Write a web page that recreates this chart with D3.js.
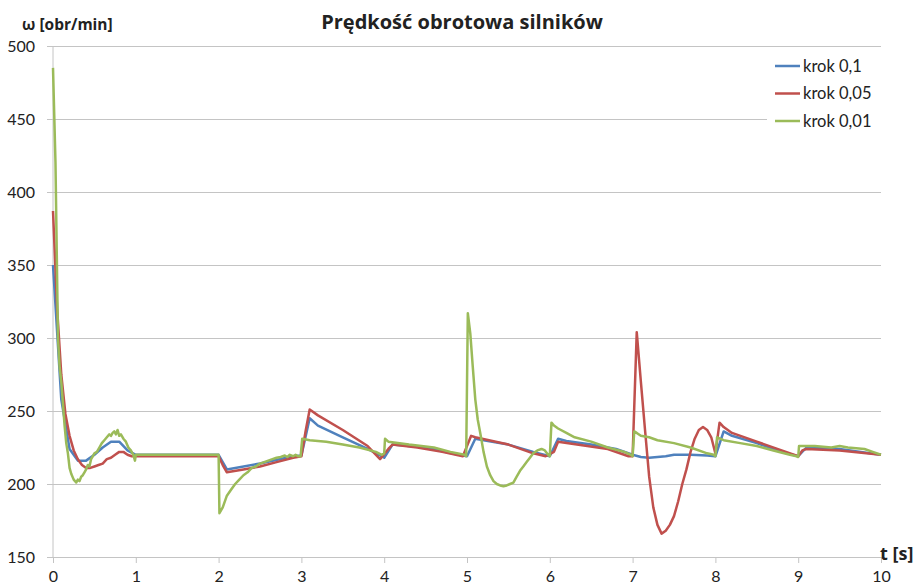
<!DOCTYPE html>
<html>
<head>
<meta charset="utf-8">
<script src="https://cdn.jsdelivr.net/npm/d3@7/dist/d3.min.js"></script>
<style>
  body { margin: 0; background: #fff; }
  text { font-family: Lato, "Open Sans", sans-serif; fill: #222; }
  .bold-title { font-family: "Open Sans", Lato, sans-serif; font-weight: bold; }
</style>
</head>
<body>
<div id="wrapper"></div>
<script>
'use strict';

// series data (t in seconds, omega in obr/min)
const tBlue = [0, 0.1, 0.2, 0.3, 0.4, 0.5, 0.6, 0.7, 0.8, 0.9, 1.0, 2.0, 2.1, 2.5, 2.9, 3.0, 3.1, 3.2, 3.5, 3.8, 4.0, 4.1, 4.5, 4.9, 5.0, 5.1, 5.2, 5.5, 5.8, 6.0, 6.1, 6.2, 6.5, 6.8, 7.0, 7.1, 7.2, 7.4, 7.5, 7.7, 7.9, 8.0, 8.1, 8.2, 8.5, 8.8, 9.0, 9.1, 9.5, 9.8, 10.0];
const vBlue = [350, 258, 224, 216, 216, 220, 225, 229, 229, 223, 220, 220, 210, 214, 219, 219.5, 245, 240, 232, 224, 218, 227, 225, 220, 219, 231, 230, 227, 222, 219, 231, 229.5, 227, 224, 220, 218.5, 218, 219, 220, 220, 219.5, 219, 236, 233, 228, 222, 219, 225, 224, 221.5, 220];

const tRed = [0, 0.05, 0.1, 0.15, 0.2, 0.25, 0.3, 0.35, 0.4, 0.45, 0.5, 0.55, 0.6, 0.65, 0.7, 0.75, 0.8, 0.85, 0.9, 0.95, 1.0, 2.0, 2.05, 2.1, 2.3, 2.5, 2.7, 2.9, 3.0, 3.05, 3.1, 3.2, 3.5, 3.8, 3.95, 4.05, 4.1, 4.4, 4.7, 4.95, 5.05, 5.1, 5.5, 5.8, 5.95, 6.05, 6.1, 6.7, 6.95, 7.0, 7.05, 7.1, 7.15, 7.2, 7.25, 7.3, 7.35, 7.4, 7.45, 7.5, 7.55, 7.6, 7.65, 7.7, 7.75, 7.8, 7.85, 7.9, 7.95, 8.0, 8.05, 8.1, 8.2, 8.5, 8.8, 9.0, 9.05, 9.1, 9.5, 10.0];
const vRed = [387, 320, 275, 248, 233, 223, 217, 213, 211, 211, 212, 213, 214, 217, 218, 220, 222, 222, 220, 219, 219, 219, 213, 208, 210, 212, 215, 218, 219, 236, 251, 247, 237, 226, 217, 224, 227, 225, 222, 219, 233, 232, 227, 221, 219, 222, 229, 224, 219, 219, 304, 270, 237, 205, 184, 172, 166, 168, 172, 178, 188, 200, 210, 222, 231, 237, 239, 237, 232, 221, 242, 239, 235, 229, 223, 219, 223, 224, 223, 220];

const tGreen = [0, 0.03, 0.06, 0.08, 0.1, 0.12, 0.14, 0.16, 0.18, 0.2, 0.22, 0.25, 0.28, 0.3, 0.32, 0.34, 0.36, 0.38, 0.4, 0.42, 0.44, 0.46, 0.48, 0.5, 0.53, 0.56, 0.59, 0.62, 0.65, 0.68, 0.7, 0.72, 0.74, 0.76, 0.78, 0.8, 0.82, 0.85, 0.88, 0.91, 0.94, 0.97, 0.99, 1.0, 2.0,
  2.01, 2.05, 2.1, 2.15, 2.2, 2.25, 2.3, 2.35, 2.4, 2.45, 2.5, 2.55, 2.6, 2.65, 2.7, 2.75, 2.8, 2.83, 2.86, 2.9, 2.93, 2.96, 2.99, 3.01, 3.1, 3.3, 3.5, 3.7, 3.9, 3.97, 4.0, 4.01, 4.05, 4.3, 4.6, 4.8, 4.97, 4.99,
  5.01, 5.04, 5.07, 5.1, 5.13, 5.16, 5.2, 5.24, 5.28, 5.32, 5.36, 5.4, 5.44, 5.48, 5.52, 5.56, 5.6, 5.64, 5.68, 5.72, 5.76, 5.8, 5.85, 5.9, 5.94, 5.98, 6.0,
  6.02, 6.05, 6.1, 6.2, 6.3, 6.5, 6.7, 6.9, 6.98, 7.0, 7.02, 7.05, 7.1, 7.2, 7.3, 7.5, 7.7, 7.9, 7.98, 8.0, 8.02, 8.1, 8.3, 8.5, 8.7, 8.9, 8.98, 9.0, 9.01, 9.2, 9.4, 9.5, 9.6, 9.8, 9.9, 10.0];
const vGreen = [485, 420, 300, 280, 270, 255, 240, 228, 221, 211, 207, 203, 201, 203, 202, 205, 206, 208, 210, 213, 212, 217, 219, 221, 222, 225, 228, 230, 232, 234, 233, 235, 236, 234, 237, 233, 234, 231, 229, 225, 223, 220, 216, 220, 220,
  180, 184, 192, 196, 200, 203, 206, 208, 211, 212, 214, 215, 216, 217, 218, 218.5, 219.5, 218.5, 220, 219, 220, 219, 219, 231, 230, 229, 227, 225, 222, 220, 221, 231, 229, 227, 225, 222, 220, 219,
  317, 303, 280, 258, 244, 235, 222, 212, 206, 202, 200, 199, 198.5, 199, 200, 201, 205, 209, 212, 215, 218, 221, 223, 224, 223, 220, 219,
  242, 240, 238, 235, 232, 229, 225, 222, 220, 219, 236, 235, 233, 232, 230, 228, 225, 221, 220, 219, 232, 230, 228, 226, 223, 220, 219, 218.5, 226, 226, 225, 226, 225, 224, 222, 220];

const seriesNames = ['krok 0,1', 'krok 0,05', 'krok 0,01'];
const seriesColors = ['#4F81BD', '#C0504D', '#9BBB59'];
const xTicks = [0, 1, 2, 3, 4, 5, 6, 7, 8, 9, 10];
const yTicks = [150, 200, 250, 300, 350, 400, 450, 500];

const series = [
  tBlue.map((t, i) => ({ t, v: vBlue[i] })),
  tRed.map((t, i) => ({ t, v: vRed[i] })),
  tGreen.map((t, i) => ({ t, v: vGreen[i] })),
];

const dimensions = {
  width: 922,
  height: 588,
  margin: { top: 46, right: 41, bottom: 31, left: 53 },
};
dimensions.boundedWidth = dimensions.width - dimensions.margin.left - dimensions.margin.right;
dimensions.boundedHeight = dimensions.height - dimensions.margin.top - dimensions.margin.bottom;

const xScale = d3.scaleLinear().domain([0, 10]).range([0, dimensions.boundedWidth]);
const yScale = d3.scaleLinear().domain([150, 500]).range([dimensions.boundedHeight, 0]);

const wrapper = d3.select('#wrapper')
  .append('svg')
  .attr('width', dimensions.width)
  .attr('height', dimensions.height);

const bounds = wrapper.append('g')
  .attr('transform', `translate(${dimensions.margin.left},${dimensions.margin.top})`);

// y axis with gridlines (grid starts 6px left of the axis)
const yAxis = bounds.append('g')
  .attr('transform', 'translate(-6,0)')
  .call(d3.axisLeft(yScale).tickValues(yTicks).tickSize(-(dimensions.boundedWidth + 6)).tickPadding(12));
yAxis.select('.domain').remove();
yAxis.selectAll('line').attr('stroke', '#c4c4c4');
yAxis.selectAll('text').style('font-size', '16px');

bounds.append('line')
  .attr('x1', 0).attr('x2', 0)
  .attr('y1', 0).attr('y2', dimensions.boundedHeight)
  .attr('stroke', '#c4c4c4');

// x axis
const xAxis = bounds.append('g')
  .attr('transform', `translate(0,${dimensions.boundedHeight})`)
  .call(d3.axisBottom(xScale).tickValues(xTicks).tickSize(6).tickPadding(8));
xAxis.select('.domain').attr('stroke', '#c4c4c4');
xAxis.selectAll('line').attr('stroke', '#c4c4c4');
xAxis.selectAll('text').style('font-size', '16px');

// lines
const lineGenerator = d3.line()
  .x(d => xScale(d.t))
  .y(d => yScale(d.v));

bounds.selectAll('.series')
  .data(series)
  .join('path')
  .attr('class', 'series')
  .attr('d', lineGenerator)
  .attr('fill', 'none')
  .attr('stroke', (d, i) => seriesColors[i])
  .attr('stroke-width', 2.5)
  .attr('stroke-linejoin', 'round');

// legend
const legend = wrapper.append('g').attr('transform', 'translate(767,52)');
legend.append('rect')
  .attr('width', 115).attr('height', 83)
  .attr('fill', '#fff');
const legendItems = legend.selectAll('.item')
  .data(seriesNames)
  .join('g')
  .attr('transform', (d, i) => `translate(0,${14 + i * 27.5})`);
legendItems.append('line')
  .attr('x1', 8).attr('x2', 33)
  .attr('stroke', (d, i) => seriesColors[i])
  .attr('stroke-width', 2.5);
legendItems.append('text')
  .attr('x', 36)
  .attr('dy', '0.35em')
  .style('font-size', '16.5px')
  .text(d => d);

// titles
wrapper.append('text')
  .attr('class', 'bold-title')
  .attr('x', 462).attr('y', 29)
  .attr('text-anchor', 'middle')
  .style('font-size', '20px')
  .text('Prędkość obrotowa silników');

wrapper.append('text')
  .attr('class', 'bold-title')
  .attr('x', 22).attr('y', 30)
  .style('font-size', '15.5px')
  .text('ω [obr/min]');

wrapper.append('text')
  .attr('class', 'bold-title')
  .attr('x', 880).attr('y', 560)
  .style('font-size', '18px')
  .text('t [s]');
</script>
</body>
</html>
